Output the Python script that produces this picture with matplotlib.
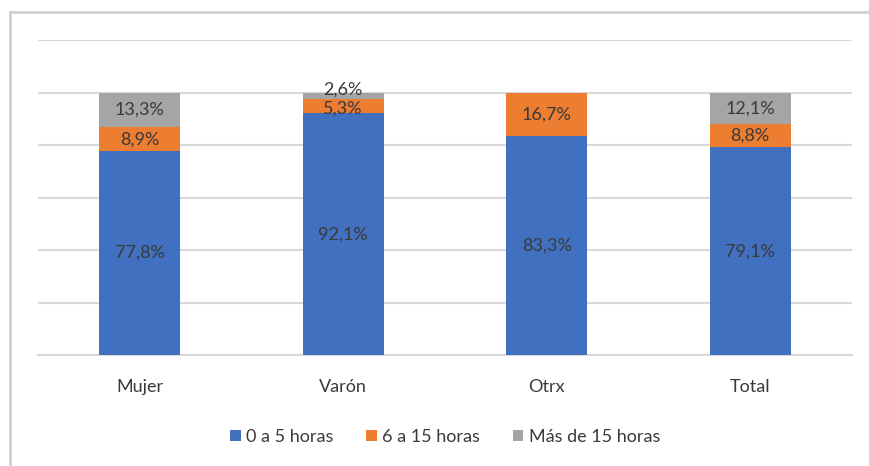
import matplotlib
matplotlib.use("Agg")
import matplotlib.pyplot as plt
from matplotlib.lines import Line2D

plt.rcParams['font.family'] = ['Lato', 'DejaVu Sans']

categorias = ['Mujer', 'Varón', 'Otrx', 'Total']
series = ['0 a 5 horas', '6 a 15 horas', 'Más de 15 horas']
hasta_5 = [77.8, 92.1, 83.3, 79.1]
de_6_a_15 = [8.9, 5.3, 16.7, 8.8]
mas_de_15 = [13.3, 2.6, 0.0, 12.1]
colores = ['#4070BF', '#ED7D31', '#A5A5A5']

fig = plt.figure(figsize=(8.69, 4.66), dpi=100)
ax = fig.add_axes([0.0437, 0.238, 0.9367, 0.676])

x = range(len(categorias))
base = [0.0] * len(categorias)
for nombre, valores, color in zip(series, [hasta_5, de_6_a_15, mas_de_15], colores):
    barras = ax.bar(x, valores, width=0.4, bottom=base, color=color, label=nombre, zorder=3)
    for b, v, y0 in zip(barras, valores, base):
        if v <= 0:
            continue
        y = y0 + v / 2
        if v < 4:
            y = y0 + v + 1.2   # etiqueta pequeña, algo por encima
        elif v < 6:
            y = y0 + v / 2 - 0.8
        ax.text(b.get_x() + b.get_width() / 2, y, f"{v:.1f}%".replace('.', ','),
                ha='center', va='center', fontsize=13, color='#3a3a3a', zorder=4)
    base = [a + v for a, v in zip(base, valores)]

ax.set_ylim(0, 120)
ax.set_xlim(-0.5, len(categorias) - 0.5)
ax.set_yticks(range(0, 121, 20))
ax.yaxis.grid(True, color='#d9d9d9', linewidth=1.5, zorder=0)
ax.tick_params(axis='y', left=False, labelleft=False)
ax.tick_params(axis='x', length=0, pad=17, labelsize=13, labelcolor='#3a3a3a')
ax.set_xticks(list(x))
ax.set_xticklabels(categorias)
for s in ['top', 'right', 'left']:
    ax.spines[s].set_visible(False)
ax.spines['bottom'].set_color('#d9d9d9')
ax.spines['bottom'].set_linewidth(1.5)

ax.legend(loc='center', bbox_to_anchor=(0.5, -0.26), ncol=3, frameon=False,
          fontsize=13, handlelength=0.6, handleheight=0.6, handletextpad=0.3,
          columnspacing=1.8, labelcolor='#3a3a3a')

# marco del gráfico
fig.add_artist(Line2D([10 / 869, 10 / 869], [0, 1 - 12 / 466], transform=fig.transFigure,
                      color='#d0d0d0', linewidth=2))
fig.add_artist(Line2D([10 / 869, 1], [1 - 12 / 466, 1 - 12 / 466], transform=fig.transFigure,
                      color='#d0d0d0', linewidth=2))

fig.savefig('out.png', dpi=100)
